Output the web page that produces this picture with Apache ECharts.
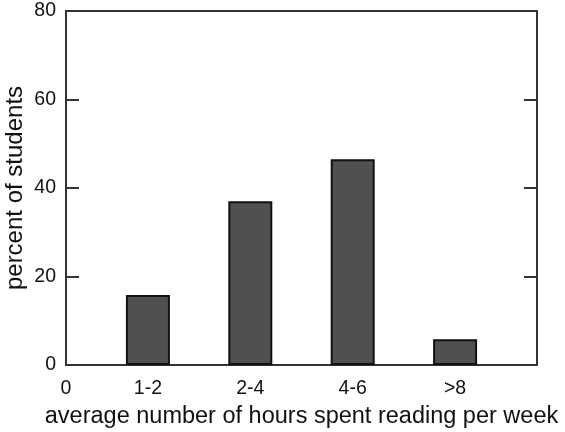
<!DOCTYPE html>
<html>
<head>
<meta charset="utf-8">
<script src="https://cdn.jsdelivr.net/npm/echarts@6/dist/echarts.min.js"></script>
<style>
  html, body { margin: 0; padding: 0; background: #fff; }
  #chart { width: 565px; height: 432px; }
</style>
</head>
<body>
<div id="chart"></div>
<script>
// data
var categories = ['1-2', '2-4', '4-6', '>8'];
var catPos = [0.8, 1.8, 2.8, 3.8];          // where each category sits on the x scale
var percents = [15.8, 37.0, 46.5, 5.8];
var xTickPos = [0, 0.8, 1.8, 2.8, 3.8];
var xTickLabels = ['0', '1-2', '2-4', '4-6', '>8'];
var yTicks = [0, 20, 40, 60, 80];

var axisColor = '#333';
var textColor = '#111';
var font = 'Liberation Sans, Arial, Helvetica, sans-serif';

var barData = [];
for (var i = 0; i < categories.length; i++) {
    barData.push([catPos[i], percents[i]]);
}

var myChart = echarts.init(document.getElementById('chart'), null, {renderer: 'canvas'});
myChart.setOption({
    animation: false,
    grid: {
        left: 66, right: 28, top: 11, bottom: 67,
        outerBoundsMode: 'none',
        containLabel: false,
        show: true,
        borderColor: axisColor,
        borderWidth: 2
    },
    xAxis: {
        type: 'value',
        min: 0,
        max: 4.6,
        name: 'average number of hours spent reading per week',
        nameLocation: 'middle',
        nameGap: 40,
        nameMoveOverlap: false,
        nameTextStyle: {fontSize: 23.5, color: textColor, fontFamily: font},
        splitLine: {show: false},
        axisLine: {show: false},
        axisTick: {show: false},
        axisLabel: {
            customValues: xTickPos,
            fontSize: 19.5,
            color: textColor,
            fontFamily: font,
            margin: 14,
            formatter: function (v) {
                for (var k = 0; k < xTickPos.length; k++) {
                    if (Math.abs(xTickPos[k] - v) < 1e-6) return xTickLabels[k];
                }
                return '';
            }
        }
    },
    yAxis: [{
        type: 'value',
        min: yTicks[0],
        max: yTicks[yTicks.length - 1],
        interval: 20,
        name: 'percent of students',
        nameLocation: 'middle',
        nameGap: 39,
        nameMoveOverlap: false,
        nameTextStyle: {fontSize: 24, color: textColor, fontFamily: font},
        splitLine: {show: false},
        axisLine: {show: false},
        axisTick: {show: true, inside: true, length: 13, lineStyle: {color: axisColor, width: 2}},
        axisLabel: {fontSize: 19.5, color: textColor, fontFamily: font, margin: 10}
    }, {
        type: 'value',
        position: 'right',
        min: yTicks[0],
        max: yTicks[yTicks.length - 1],
        interval: 20,
        splitLine: {show: false},
        axisLine: {show: false},
        axisTick: {show: true, inside: true, length: 13, lineStyle: {color: axisColor, width: 2}},
        axisLabel: {show: false}
    }],
    series: [{
        type: 'bar',
        data: barData,
        barWidth: 44,
        itemStyle: {
            color: '#505050',
            borderColor: '#111',
            borderWidth: 2
        }
    }]
});
</script>
</body>
</html>
